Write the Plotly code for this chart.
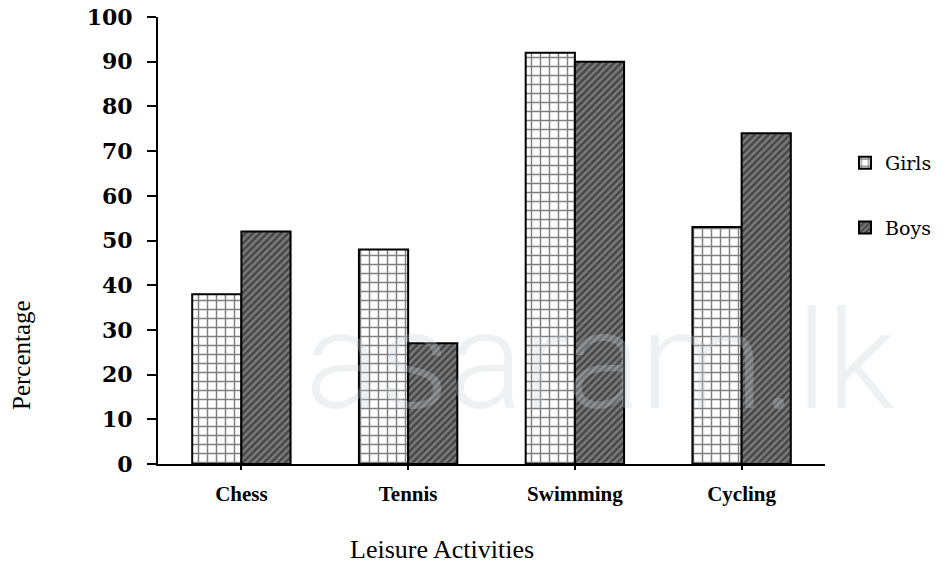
import plotly.graph_objects as go

categories = ["Chess", "Tennis", "Swimming", "Cycling"]
girls = [38, 48, 92, 53]
boys = [52, 27, 90, 74]
y_ticks = [0, 10, 20, 30, 40, 50, 60, 70, 80, 90, 100]

fig = go.Figure()
fig.add_trace(go.Bar(
    x=categories, y=girls, name="Girls",
    marker=dict(color="white", line=dict(color="black", width=2),
                pattern=dict(shape="+", fgcolor="black", bgcolor="white",
                             size=9, solidity=0.3, fillmode="overlay")),
    legendgroup="g",
))
fig.add_trace(go.Bar(
    x=categories, y=boys, name="Boys",
    marker=dict(color="#777777", line=dict(color="black", width=2),
                pattern=dict(shape="/", fgcolor="#111111", bgcolor="#7a7a7a",
                             size=5, solidity=0.5, fillmode="overlay")),
    legendgroup="b",
))

fig.update_layout(
    width=949, height=565,
    margin=dict(l=158, r=124, t=17, b=101, autoexpand=False),
    paper_bgcolor="white", plot_bgcolor="white",
    barmode="group", bargap=0.41, bargroupgap=0,
    showlegend=True,
    legend=dict(x=1.03, y=0.716, xanchor="left", yanchor="top",
                font=dict(family="DejaVu Serif", size=19, color="black"),
                tracegroupgap=37, bgcolor="rgba(0,0,0,0)",
                itemwidth=30),
    font=dict(family="Liberation Serif", color="black"),
)

fig.update_xaxes(
    range=[-0.5, 3.5], showline=True, linecolor="black", linewidth=2,
    ticks="outside", ticklen=4, tickwidth=1.5, tickcolor="black",
    tickfont=dict(family="Liberation Serif", size=21, color="black", weight="bold"),
    ticklabelstandoff=6, showgrid=False, zeroline=False, automargin=False,
)
fig.update_yaxes(
    range=[0, 100], tickvals=y_ticks, showline=True, linecolor="black", linewidth=2,
    ticks="outside", ticklen=9, tickwidth=1.5, tickcolor="black",
    tickfont=dict(family="DejaVu Serif", size=22, color="black", weight="bold"),
    ticklabelstandoff=10, showgrid=False, zeroline=False, automargin=False,
)

fig.add_annotation(text="asaram.lk", xref="paper", yref="paper",
                   x=(600 - 158) / 667, y=(464 - 361) / 447,
                   xanchor="center", yanchor="middle",
                   showarrow=False,
                   font=dict(family="Roboto", size=138, color="rgba(200,208,218,0.3)", weight=300))

fig.add_annotation(text="Leisure Activities", xref="paper", yref="paper",
                   x=(442 - 158) / 667, y=(464 - 549) / 447, xanchor="center", yanchor="middle",
                   showarrow=False,
                   font=dict(family="Liberation Serif", size=26, color="black"))
fig.add_annotation(text="Percentage", xref="paper", yref="paper",
                   x=(21 - 158) / 667, y=(464 - 355) / 447, xanchor="center", yanchor="middle",
                   textangle=-90, showarrow=False,
                   font=dict(family="Liberation Serif", size=25, color="black"))

fig.write_html("out.html", config={"displayModeBar": False},
               post_script="document.body.style.margin='0';document.body.style.overflow='hidden';")
